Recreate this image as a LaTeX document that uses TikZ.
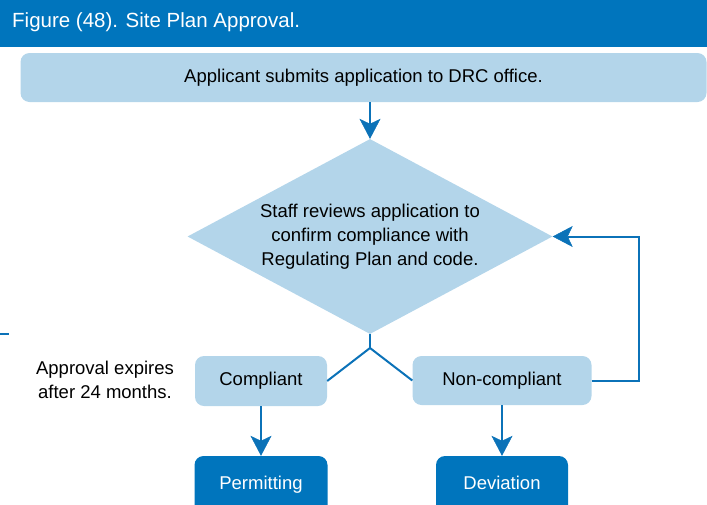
\documentclass[tikz,border=0pt]{standalone}
\usepackage{fontspec}
\setmainfont{Liberation Sans}
\usepackage{xcolor}
\usetikzlibrary{arrows.meta,calc,positioning,shapes.geometric}
\definecolor{hdrblue}{HTML}{0075BD}
\definecolor{paleblue}{HTML}{B3D5EA}
\definecolor{linkblue}{HTML}{0B72B8}
\tikzset{
  stepbox/.style={fill=paleblue,rounded corners=9pt,inner sep=0pt,text height=13pt,text depth=4pt,font=\fontsize{18.5}{24}\selectfont},
  endbox/.style={stepbox,fill=hdrblue,text=white},
  link/.style={draw=linkblue,line width=2pt},
  flow/.style={link,-{Stealth[length=20pt,width=21pt,inset=5pt,line width=0.5pt,fill=linkblue]}},
}

\begin{document}
\begin{tikzpicture}[x=1pt,y=-1pt]
  \useasboundingbox (0,0) rectangle (707,504);
  % header band
  \fill[hdrblue] (0,0) rectangle (707,47);
  \node[anchor=west,text=white,font=\fontsize{20.5}{24}\selectfont,inner sep=0pt] (title) at (12,22) {Figure (48). Site Plan Approval.};
  % steps
  \node[stepbox,minimum width=686pt,minimum height=49pt] (submit) at (363.5,77.5) {Applicant submits application to DRC office.};
  \node[diamond,fill=paleblue,aspect=1.87,minimum width=365pt,minimum height=195pt,inner sep=0pt,align=center,font=\fontsize{18.5}{24}\selectfont] (review) at (370,236.5) {Staff reviews application to\\confirm compliance with\\Regulating Plan and code.};
  \node[stepbox,minimum width=132pt,minimum height=50pt] (compliant) at (261,381) {Compliant};
  \node[stepbox,minimum width=179pt,minimum height=49pt] (noncompliant) at (502,380.5) {Non-compliant};
  \node[endbox,minimum width=133pt,minimum height=58pt] (permit) at (261,485) {Permitting};
  \node[endbox,minimum width=132pt,minimum height=58pt] (deviation) at (502,485) {Deviation};
  \node[align=center,inner sep=0pt,font=\fontsize{18.5}{24}\selectfont] (expires) at (105,380) {Approval expires\\after 24 months.};
  % connectors
  \coordinate (split) at (370,348);
  \coordinate (loop) at (639,380.5);
  \coordinate (stub) at (0,334);
  \draw[flow] (submit.south -| review.north) -- (review.north);
  \draw[link] (review.south) -- (split);
  \draw[link] (split) -- (compliant.east);
  \draw[link] (split) -- (noncompliant.west);
  \draw[flow] (compliant) -- (permit);
  \draw[flow] (noncompliant) -- (deviation);
  \draw[flow] (noncompliant.east) -- (loop) |- (review.east);
  \draw[link] (stub) -- ++(9,0);
\end{tikzpicture}
\end{document}
